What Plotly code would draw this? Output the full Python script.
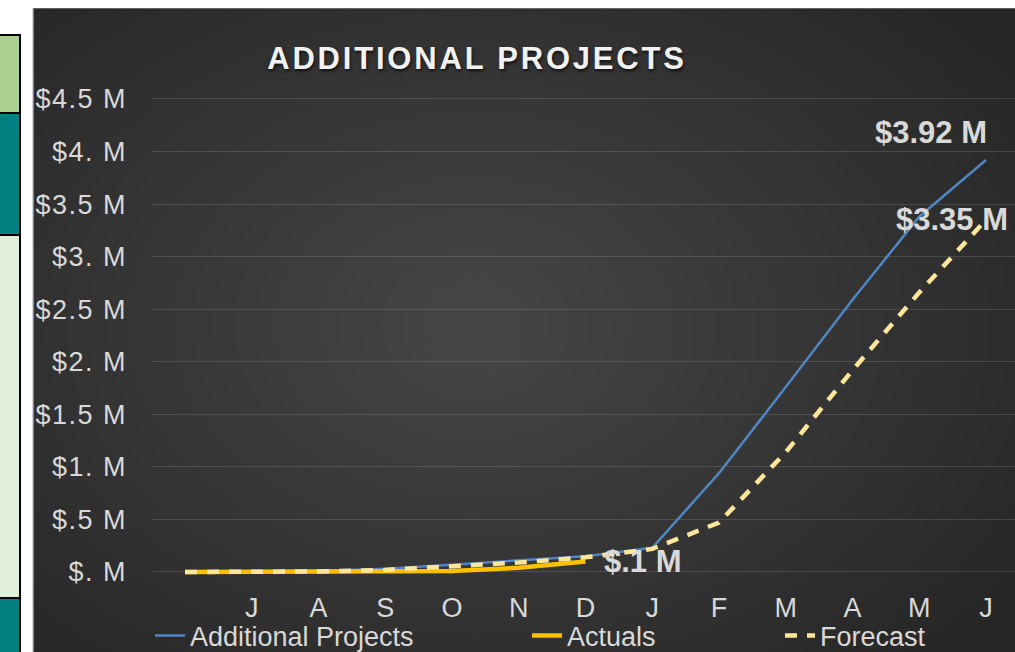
import plotly.graph_objects as go

# ---- data (values in $ millions) ----
month_pos = list(range(13))            # position 0 is the unlabeled starting point
month_labels = ["J", "A", "S", "O", "N", "D", "J", "F", "M", "A", "M", "J"]
additional_projects = [0, 0, 0.01, 0.03, 0.07, 0.11, 0.15, 0.23, 0.94, 1.76, 2.59, 3.38, 3.92]
actuals = [0, 0, 0, 0, 0.01, 0.04, 0.10]
forecast = [0, 0, 0.005, 0.02, 0.05, 0.09, 0.14, 0.22, 0.47, 1.14, 1.92, 2.66, 3.35]
y_ticks = [0, 0.5, 1, 1.5, 2, 2.5, 3, 3.5, 4, 4.5]

W, H = 1015, 652


def money(v):
    """Format millions the way the workbook does: $4. M, $.1 M, $3.92 M."""
    s = f"{v:.2f}".rstrip("0")
    if s.startswith("0"):
        s = s[1:]
    return f"${s} M"


def px(x):
    return x / W


def py(y):
    return 1 - y / H


TXT = "#d9d9d9"
NARROW = "Liberation Sans Narrow, Arial Narrow, Liberation Sans, Arial"
SANS = "Liberation Sans, Arial"

fig = go.Figure()

fig.add_trace(go.Scatter(
    x=month_pos, y=additional_projects, mode="lines", name="Additional Projects",
    line=dict(color="#4f87c2", width=2.5), legend="legend",
))
fig.add_trace(go.Scatter(
    x=month_pos[:len(actuals)], y=actuals, mode="lines", name="Actuals",
    line=dict(color="#ffc000", width=4.5), legend="legend2",
))
fig.add_trace(go.Scatter(
    x=month_pos, y=forecast, mode="lines", name="Forecast",
    line=dict(color="#ffe699", width=4.5, dash="12px,10px"), legend="legend3",
))

shapes = []
# chart panel with a soft radial highlight
shapes.append(dict(type="rect", xref="paper", yref="paper", x0=px(33), x1=px(W + 5),
                   y0=py(H + 5), y1=py(8), fillcolor="#272727",
                   line=dict(color="#9a9a9a", width=1), layer="below"))
cx, cy = 475, 325
n_rings = 30
for i in range(n_rings):
    rx = 640 - i * 21
    ry = 440 - i * 14
    shapes.append(dict(type="circle", xref="paper", yref="paper",
                       x0=px(cx - rx), x1=px(cx + rx), y0=py(cy + ry), y1=py(cy - ry),
                       fillcolor="rgba(255,255,255,0.0085)", line=dict(width=0), layer="below"))
# cover the overflow of the highlight outside the panel
shapes.append(dict(type="rect", xref="paper", yref="paper", x0=px(-300), x1=px(33),
                   y0=py(H + 300), y1=py(-300), fillcolor="white", line=dict(width=0), layer="below"))
shapes.append(dict(type="rect", xref="paper", yref="paper", x0=px(-300), x1=px(W + 300),
                   y0=py(8), y1=py(-300), fillcolor="white", line=dict(width=0), layer="below"))
shapes.append(dict(type="line", xref="paper", yref="paper", x0=px(33), x1=px(33),
                   y0=py(H), y1=py(8), line=dict(color="#a6a6a6", width=1), layer="below"))

# neighbouring worksheet cells at the left edge
cells = [(35, 113, "#a9d08e"), (113, 235, "#008080"), (235, 598, "#e2efda"), (598, 660, "#008080")]
for top, bot, col in cells:
    shapes.append(dict(type="rect", xref="paper", yref="paper", x0=px(-5), x1=px(20),
                       y0=py(bot), y1=py(top), fillcolor=col,
                       line=dict(color="black", width=2), layer="below"))

# data labels, built from the series values
annotations = [
    dict(x=month_pos[-1], y=additional_projects[-1], xref="x", yref="y",
         text=f"<b>{money(additional_projects[-1])}</b>", showarrow=False,
         xanchor="right", yanchor="bottom", xshift=3, yshift=8,
         font=dict(family=SANS, size=31, color=TXT)),
    dict(x=month_pos[-1], y=forecast[-1], xref="x", yref="y",
         text=f"<b>{money(forecast[-1])}</b>", showarrow=False,
         xanchor="left", yanchor="middle", xshift=-92, yshift=0,
         font=dict(family=SANS, size=31, color=TXT)),
    dict(x=month_pos[len(actuals) - 1], y=actuals[-1], xref="x", yref="y",
         text=f"<b>{money(actuals[-1])}</b>", showarrow=False,
         xanchor="left", yanchor="middle", xshift=16, yshift=0,
         font=dict(family=SANS, size=31, color=TXT)),
]

x_per = (986 - 185) / 12
x_lo = -(185 - 152) / x_per
x_hi = 12 + (W - 986) / x_per
y_per = (572 - 99) / 4.5
y_lo, y_hi = -0.1, 4.6
bottom_px = 572 + 0.1 * y_per
top_px = 99 - 0.1 * y_per

legend_common = dict(orientation="h", xanchor="left", yanchor="middle",
                     bgcolor="rgba(0,0,0,0)", font=dict(family=NARROW, size=27, color=TXT))

y_tick_text = [f'<span style="letter-spacing:1.5px">{money(v)}</span>' for v in y_ticks]

fig.update_layout(
    width=W, height=H,
    margin=dict(l=0, r=0, t=0, b=0, autoexpand=False),
    paper_bgcolor="white",
    plot_bgcolor="rgba(0,0,0,0)",
    shapes=shapes,
    annotations=annotations,
    title=dict(
        text='<b><span style="letter-spacing:2.8px">ADDITIONAL PROJECTS</span></b>',
        x=px(477), xanchor="center", y=py(58), yanchor="middle",
        xref="paper", yref="paper",
        font=dict(family=SANS, size=31, color="#f2f2f2", shadow="1px 2px 3px #111"),
    ),
    xaxis=dict(
        domain=[px(152), 1], range=[x_lo, x_hi],
        tickmode="array", tickvals=month_pos[1:], ticktext=month_labels,
        showgrid=False, zeroline=False, showline=False, ticks="",
        tickfont=dict(family=NARROW, size=27, color=TXT),
        ticklabelstandoff=6, automargin=False, fixedrange=True,
    ),
    yaxis=dict(
        domain=[py(bottom_px), py(top_px)], range=[y_lo, y_hi],
        tickmode="array", tickvals=y_ticks, ticktext=y_tick_text,
        showgrid=True, gridcolor="rgba(255,255,255,0.13)", gridwidth=1,
        zeroline=False, showline=False, ticks="",
        tickfont=dict(family=SANS, size=27, color=TXT),
        ticklabelstandoff=24, automargin=False, fixedrange=True,
    ),
    showlegend=True,
    legend=dict(x=px(150), y=py(636), **legend_common),
    legend2=dict(x=px(527), y=py(636), **legend_common),
    legend3=dict(x=px(780), y=py(636), **legend_common),
)

fig.write_html("out.html")
